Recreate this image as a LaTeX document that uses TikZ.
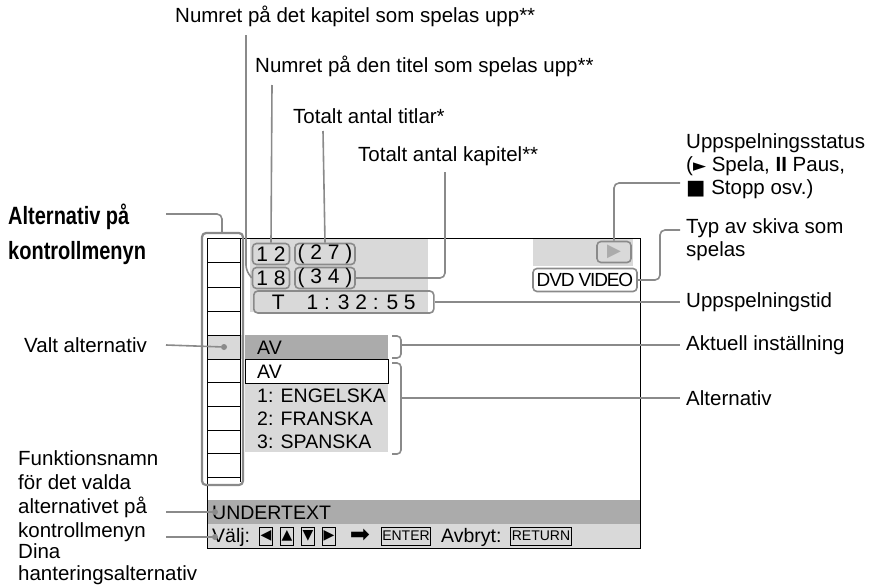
\documentclass[tikz,border=0pt]{standalone}
\usepackage{fontspec}
\setmainfont{Liberation Sans}
\newfontfamily\sym{DejaVu Sans}
\usepackage{xcolor}
\definecolor{lead}{HTML}{8A8A8A}
\definecolor{pale}{HTML}{D9D9D9}
\definecolor{mid}{HTML}{ABABAB}
\tikzset{
  lbl/.style={anchor=west,inner sep=0pt,font=\fontsize{20.5}{23}\selectfont},
  scr/.style={anchor=west,inner sep=0pt,font=\fontsize{19.5}{21}\selectfont},
  lead/.style={draw=lead,line width=1.6pt,rounded corners=5pt},
  tag/.style={draw=lead,line width=1.6pt,rounded corners=4pt},
  key/.style={draw,line width=0.8pt,inner sep=1pt,minimum height=18pt,font=\fontsize{14}{15}\selectfont},
  dotend/.style={circle,fill=lead,inner sep=0pt,minimum size=6pt}
}
\begin{document}
\begin{tikzpicture}[x=1pt,y=-1pt]
\useasboundingbox (0,0) rectangle (873,584);
% screen and its grey areas
\fill[pale](250,238) rectangle (428,312);
\fill[pale](533,238) rectangle (633,266);
\fill[mid](245,335) rectangle (388,359);
\fill[pale](245,383) rectangle (388,452);
\fill[mid](207,500) rectangle (640,524);
\fill[pale](207,524) rectangle (640,548);
\draw[line width=1pt](207,238) rectangle (640,548);
\draw[line width=0.8pt,fill=white](245,359) rectangle (388,383);
% menu column
\fill[pale](207,335) rectangle (242,359);
\draw[line width=0.8pt](207,238)--(207,482);
\draw[line width=0.8pt](240,238)--(240,482);
\foreach \y in {238,262,287,311,335,359,382,406,430,453,477}
  \draw[line width=0.8pt](207,\y)--(240,\y);
\draw[tag,line width=2.2pt](202,233) rectangle (243,485);
\node[dotend] (sel) at (224,347) {};
% screen texts
\node[scr] (av) at (257,348) {AV};
\node[scr] (avw) at (257,372) {AV};
\node[scr] (en) at (257,396) {1: ENGELSKA};
\node[scr] (fr) at (257,419) {2: FRANSKA};
\node[scr] (sp) at (257,442) {3: SPANSKA};
\node[scr] (ut) at (212,513) {UNDERTEXT};
\node[scr] (valj) at (212,537) {Välj:};
\node[key] (kl) at (266,536) {\sym ◀};
\node[key] (ku) at (287,536) {\sym ▲};
\node[key] (kd) at (308,536) {\sym ▼};
\node[key] (kr) at (329,536) {\sym ▶};
\node[inner sep=0pt,font=\fontsize{24}{24}\selectfont\sym] (go) at (360,536) {➡};
\node[key] (enter) at (406,536) {ENTER};
\node[scr] (avb) at (441,537) {Avbryt:};
\node[key] (ret) at (541,536) {RETURN};
% tagged fields
\node[tag,scr,anchor=center,minimum width=37pt,minimum height=21pt,font=\fontsize{21}{21}\selectfont] (t1) at (271,254) {1 2};
\node[tag,scr,anchor=center,minimum width=60pt,minimum height=21pt,font=\fontsize{21}{21}\selectfont] (t2) at (325,254) {( 2 7 )};
\node[tag,scr,anchor=center,minimum width=37pt,minimum height=21pt,font=\fontsize{21}{21}\selectfont] (c1) at (271,278) {1 8};
\node[tag,scr,anchor=center,minimum width=60pt,minimum height=21pt,font=\fontsize{21}{21}\selectfont] (c2) at (325,278) {( 3 4 )};
\node[tag,scr,anchor=west,minimum width=180pt,minimum height=22pt,inner xsep=4pt,font=\fontsize{21}{21}\selectfont] (tm) at (253,302) {T\hspace{22pt}1 : 3 2 : 5 5};
\node[tag,fill=pale,minimum width=34pt,minimum height=21pt,text=mid,font=\fontsize{18}{18}\selectfont\sym] (st) at (614,252) {▶};
\node[tag,anchor=center,minimum width=104pt,minimum height=23pt,inner xsep=2pt,font=\fontsize{19}{20}\selectfont\addfontfeature{LetterSpace=-6}] (dvd) at (585,280) {DVD VIDEO};
% brackets
\draw[lead,rounded corners=4pt](392,336)--(401,336)--(401,358)--(392,358);
\draw[lead,rounded corners=4pt](392,363)--(401,363)--(401,454)--(392,454);
% labels
\node[lbl] (lchap) at (175,16) {Numret på det kapitel som spelas upp**};
\node[lbl] (ltit) at (255,66) {Numret på den titel som spelas upp**};
\node[lbl] (lnt) at (293,116) {Totalt antal titlar*};
\node[lbl] (lnc) at (358,156) {Totalt antal kapitel**};
\node[lbl,align=left,anchor=north west] (lst) at (686,133) {Uppspelningsstatus\\({\sym\fontsize{17}{17}\selectfont ►} Spela, \textbf{II} Paus,\\{\sym ■} Stopp osv.)};
\node[lbl,align=left,anchor=north west] (ltyp) at (686,218) {Typ av skiva som\\spelas};
\node[lbl] (ltid) at (686,302) {Uppspelningstid};
\node[lbl] (lakt) at (686,345) {Aktuell inställning};
\node[lbl] (lalt) at (686,398) {Alternativ};
\node[lbl,align=left,anchor=north west,font=\fontsize{25}{35}\selectfont\bfseries\addfontfeature{FakeStretch=0.8}] (lmenu) at (8,204) {Alternativ på\\kontrollmenyn};
\node[lbl] (lvalt) at (24,345) {Valt alternativ};
\node[lbl,align=left,anchor=north west,font=\fontsize{20.5}{24}\selectfont] (lfun) at (18,450) {Funktionsnamn\\för det valda\\alternativet på\\kontrollmenyn};
\node[lbl,align=left,anchor=north west,font=\fontsize{20.5}{22}\selectfont] (ldin) at (18,543) {Dina\\hanteringsalternativ};
% leaders
\draw[lead](246,35)--(246,270)--(c1.west);
\draw[lead](272,85)--(t1.north);
\draw[lead](323,131)--(t2.north);
\draw[lead](445,172)--(445,278)--(c2.east);
\draw[lead](st.north)--(614,183)--(680,183);
\draw[lead](dvd.east)--(660,280)--(660,230)--(680,230);
\draw[lead](tm.east)--(680,302);
\draw[lead](401,345)--(680,345);
\draw[lead](401,398)--(680,398);
\draw[lead](166,214)--(222,214)--(222,233);
\draw[lead](166,345)--(sel);
\coordinate (fun) at (215,512);
\coordinate (din) at (215,537);
\node[dotend] at (fun) {};
\node[dotend] at (din) {};
\draw[lead](166,512)--(fun);
\draw[lead](166,537)--(din);
\end{tikzpicture}
\end{document}
